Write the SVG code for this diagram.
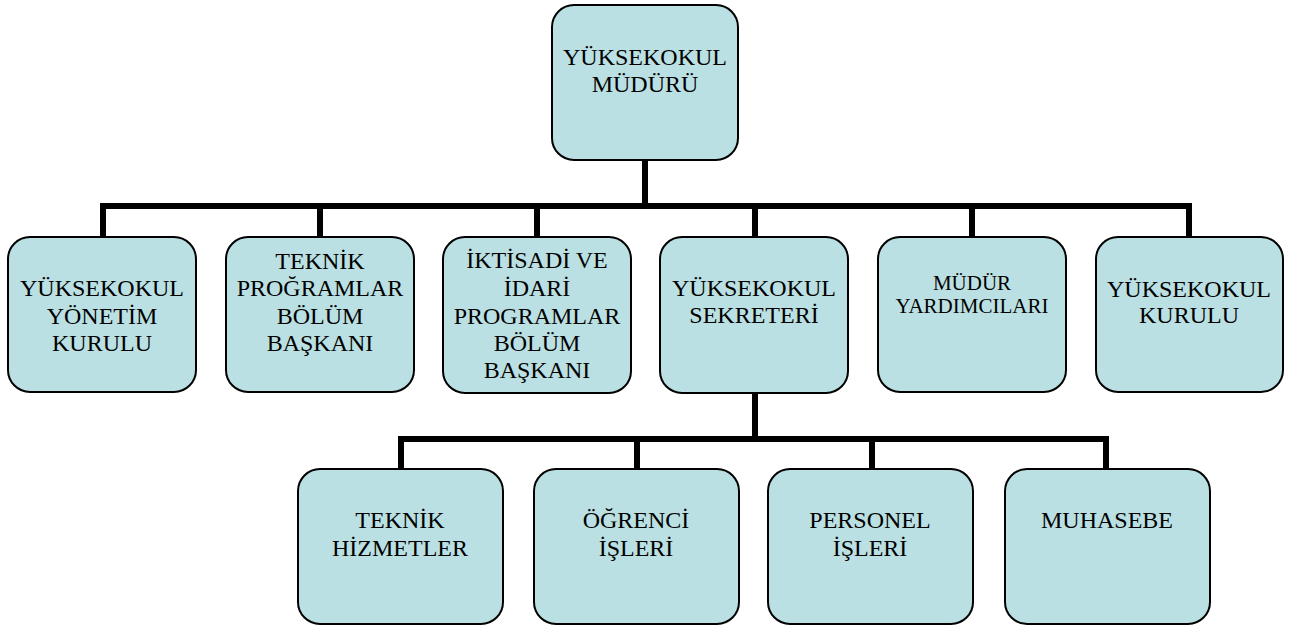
<svg xmlns="http://www.w3.org/2000/svg" width="1298" height="628" viewBox="0 0 1298 628">
<style>
.box{fill:#BBE0E3;stroke:#000;stroke-width:2}
.c{fill:none;stroke:#000;stroke-width:6;stroke-linecap:butt;stroke-linejoin:miter}
</style>
<rect width="1298" height="628" fill="#fff"/>
<g id="connectors">
<path class="c" d="M645 160V206M103 240V206H1189V240M320 206V240M537 206V240M755 206V240M972 206V240"/>
<path class="c" d="M755 393V439M401 472V439H1106V472M637 439V472M872 439V472"/>
</g>
<g font-family="Times New Roman, Liberation Serif, Tinos, serif" font-size="24" text-anchor="middle" fill="#000">
<g id="n-mudur">
<rect class="box" x="552" y="5" width="186" height="155" rx="22"/>
<text x="645" y="65">YÜKSEKOKUL</text>
<text x="645" y="92">MÜDÜRÜ</text>
</g>
<g id="n-yonetim">
<rect class="box" x="8" y="237" width="188" height="155" rx="22"/>
<text x="102" y="296">YÜKSEKOKUL</text>
<text x="102" y="324">YÖNETİM</text>
<text x="102" y="351">KURULU</text>
</g>
<g id="n-teknik">
<rect class="box" x="226" y="237" width="188" height="155" rx="22"/>
<text x="320" y="269">TEKNİK</text>
<text x="320" y="296">PROĞRAMLAR</text>
<text x="320" y="324">BÖLÜM</text>
<text x="320" y="351">BAŞKANI</text>
</g>
<g id="n-iktisadi">
<rect class="box" x="443" y="237" width="188" height="156" rx="22"/>
<text x="537" y="268">İKTİSADİ VE</text>
<text x="537" y="296">İDARİ</text>
<text x="537" y="324">PROGRAMLAR</text>
<text x="537" y="351">BÖLÜM</text>
<text x="537" y="378">BAŞKANI</text>
</g>
<g id="n-sekreter">
<rect class="box" x="660" y="237" width="188" height="156" rx="22"/>
<text x="754" y="296">YÜKSEKOKUL</text>
<text x="754" y="323">SEKRETERİ</text>
</g>
<g id="n-yardimci">
<rect class="box" x="878" y="237" width="188" height="155" rx="22"/>
<text font-size="21" x="972" y="290">MÜDÜR</text>
<text font-size="21" x="972" y="313">YARDIMCILARI</text>
</g>
<g id="n-kurul">
<rect class="box" x="1096" y="237" width="187" height="155" rx="22"/>
<text x="1189" y="297">YÜKSEKOKUL</text>
<text x="1189" y="323">KURULU</text>
</g>
<g id="n-hizmet">
<rect class="box" x="298" y="469" width="205" height="155" rx="22"/>
<text x="400" y="528">TEKNİK</text>
<text x="400" y="556">HİZMETLER</text>
</g>
<g id="n-ogrenci">
<rect class="box" x="534" y="469" width="205" height="155" rx="22"/>
<text x="636" y="528">ÖĞRENCİ</text>
<text x="636" y="556">İŞLERİ</text>
</g>
<g id="n-personel">
<rect class="box" x="768" y="469" width="205" height="155" rx="22"/>
<text x="870" y="528">PERSONEL</text>
<text x="870" y="556">İŞLERİ</text>
</g>
<g id="n-muhasebe">
<rect class="box" x="1005" y="469" width="205" height="155" rx="22"/>
<text x="1107" y="528">MUHASEBE</text>
</g>
</g>
</svg>
